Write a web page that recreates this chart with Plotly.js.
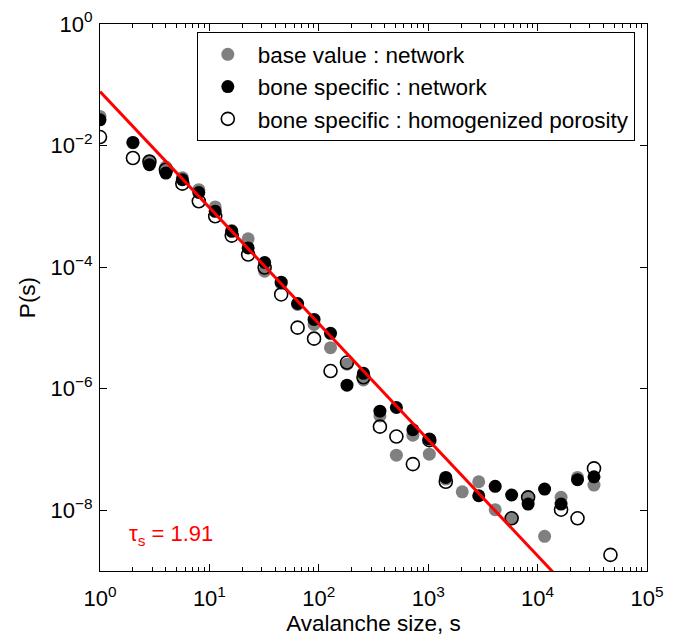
<!DOCTYPE html>
<html>
<head>
<meta charset="utf-8">
<script src="https://cdn.plot.ly/plotly-3.0.1.min.js"></script>
<style>html,body{margin:0;padding:0;background:#fff;}#chart{width:678px;height:636px;}</style>
</head>
<body>
<div id="chart"></div>
<script>
// Avalanche size bins (log-binned, factor sqrt(2))
const sizes = [1, 2, 2.83, 4, 5.66, 8, 11.3, 16, 22.6, 32, 45.3, 64, 90.5, 128, 181, 256, 362, 512, 724, 1024, 1448, 2048, 2896, 4096, 5793, 8192, 11585, 16384, 23170, 32768, 46341];

// base value : network (gray)
const baseNetwork = [3.01e-2, 1.11e-2, 5.69e-3, 4.44e-3, 2.96e-3, 1.88e-3, 9.77e-4, 3.99e-4, 2.92e-4, 8.57e-5, 5.38e-5, 2.43e-5, 1.14e-5, 4.73e-6, 2.52e-6, 1.39e-6, 3.56e-7, 8.05e-8, 1.72e-7, 8.37e-8, 3.25e-8, 2.01e-8, 2.94e-8, 1.02e-8, 7.36e-9, 1.63e-8, 3.72e-9, 1.63e-8, 3.47e-8, 2.59e-8, null];

// bone specific : network (black)
const boneNetwork = [2.655e-2, 1.125e-2, 4.84e-3, 3.53e-3, 2.74e-3, 1.69e-3, 8.28e-4, 3.88e-4, 2.07e-4, 1.19e-4, 5.65e-5, 2.52e-5, 1.38e-5, 8.13e-6, 1.14e-6, 1.79e-6, 4.26e-7, 4.90e-7, 2.11e-7, 1.48e-7, 3.47e-8, null, 1.73e-8, 2.47e-8, 1.78e-8, 1.26e-8, 2.23e-8, 1.26e-8, 3.17e-8, 3.55e-8, null];

// bone specific : homogenized porosity (open)
const boneHomog = [1.38e-2, 6.24e-3, 5.42e-3, 4.01e-3, 2.36e-3, 1.21e-3, 6.85e-4, 3.30e-4, 1.61e-4, 9.84e-5, 3.55e-5, 1.01e-5, 6.65e-6, 1.95e-6, 2.69e-6, 1.54e-6, 2.37e-7, 1.63e-7, 5.74e-8, 1.42e-7, 2.94e-8, null, null, null, 7.36e-9, 1.63e-8, null, 1.02e-8, 7.36e-9, 4.88e-8, 1.84e-9];

const seriesNames = ['base value : network', 'bone specific : network', 'bone specific : homogenized porosity'];

// Power-law fit P(s) = A * s^(-tau)
const tau = 1.91;
const fitAmplitude = 0.0776;
const fitX = [1, 31623];

const xTickVals = [1, 10, 100, 1000, 10000, 100000];
const xTickText = ['10<sup>0</sup>', '10<sup>1</sup>', '10<sup>2</sup>', '10<sup>3</sup>', '10<sup>4</sup>', '10<sup>5</sup>'];
const yTickVals = [1, 1e-2, 1e-4, 1e-6, 1e-8];
const yTickText = ['10<sup>0</sup>', '10<sup>−2</sup>', '10<sup>−4</sup>', '10<sup>−6</sup>', '10<sup>−8</sup>'];

const fitY = fitX.map(s => fitAmplitude * Math.pow(s, -tau));

const font = 'Liberation Sans, Arial, Helvetica, sans-serif';

const traces = [
  {x: sizes, y: baseNetwork, name: seriesNames[0], mode: 'markers', type: 'scatter',
   marker: {symbol: 'circle', size: 13, color: '#808080', line: {width: 0}}},
  {x: sizes, y: boneNetwork, name: seriesNames[1], mode: 'markers', type: 'scatter',
   marker: {symbol: 'circle', size: 13, color: '#000000', line: {width: 0}}},
  {x: sizes, y: boneHomog, name: seriesNames[2], mode: 'markers', type: 'scatter',
   marker: {symbol: 'circle-open', size: 13, color: '#000000', line: {width: 1.6}}},
  {x: fitX, y: fitY, mode: 'lines', type: 'scatter', showlegend: false,
   line: {color: '#ff0000', width: 3}}
];

const layout = {
  width: 678, height: 636,
  margin: {l: 100, r: 31, t: 24, b: 65},
  paper_bgcolor: '#ffffff', plot_bgcolor: '#ffffff',
  font: {family: font, size: 22, color: '#000'},
  showlegend: true,
  legend: {x: 0.177, y: 0.985, xanchor: 'left', yanchor: 'top',
           bgcolor: '#ffffff', bordercolor: '#000', borderwidth: 1,
           font: {family: font, size: 22.5, color: '#000'},
           tracegroupgap: 0, itemwidth: 50},
  xaxis: {type: 'log', range: [0, 5], showgrid: false, zeroline: false,
          showline: true, linecolor: '#000', linewidth: 1, mirror: 'ticks',
          ticks: 'inside', ticklen: 7, tickcolor: '#000',
          tickmode: 'array', tickvals: xTickVals, ticktext: xTickText,
          tickfont: {family: font, size: 22}, ticklabelstandoff: 8,
          minor: {ticks: 'inside', ticklen: 4, dtick: 'D1', tickcolor: '#000', showgrid: false},
          title: {text: 'Avalanche size, s', font: {family: font, size: 22.5}, standoff: 1}},
  yaxis: {type: 'log', range: [-9, 0], showgrid: false, zeroline: false,
          showline: true, linecolor: '#000', linewidth: 1, mirror: 'ticks',
          ticks: 'inside', ticklen: 7, tickcolor: '#000',
          tickmode: 'array', tickvals: yTickVals, ticktext: yTickText,
          tickfont: {family: font, size: 22}, ticklabelstandoff: 2,
          title: {text: 'P(s)', font: {family: font, size: 22.5}, standoff: 8}},
  annotations: [{xref: 'paper', yref: 'paper', x: 0.05, y: 0.065, xanchor: 'left', yanchor: 'middle',
                 text: 'τ<sub>s</sub> = ' + tau.toFixed(2), showarrow: false,
                 font: {family: font, size: 22, color: '#ff0000'}}]
};

Plotly.newPlot('chart', traces, layout, {displayModeBar: false, staticPlot: true});
</script>
</body>
</html>
